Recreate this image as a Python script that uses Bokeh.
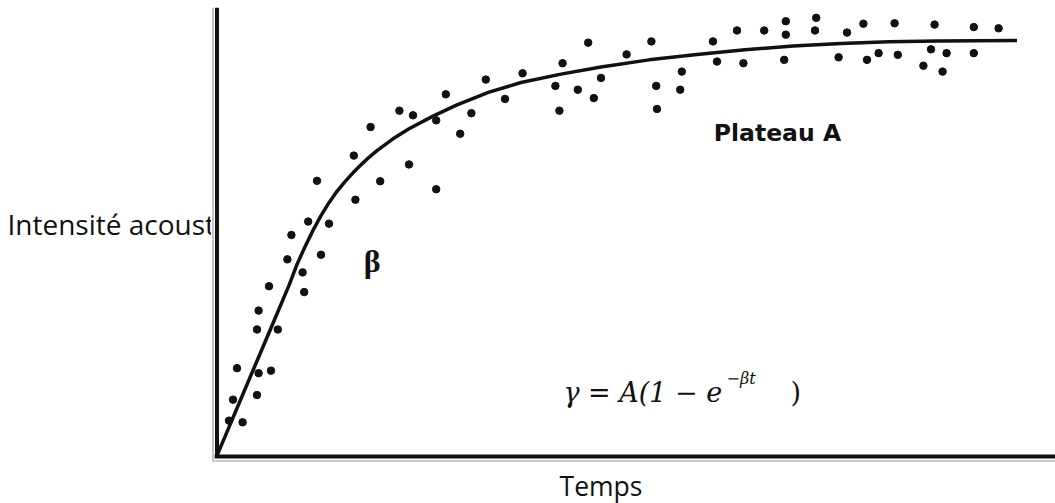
from bokeh.plotting import figure
from bokeh.layouts import row
from bokeh.models import Range1d, Label
from bokeh.core.properties import value
from bokeh.embed import file_html
from bokeh.resources import INLINE

# Measured acoustic intensity (fraction of plateau A) against time
t_obs = [3.36, 2.86, 3.18, 3.04, 2.28, 2.45, 2.74, 1.92, 1.71, 2.40, 2.04, 2.74,
         1.25, 1.73, 1.14, 1.40, 0.93, 0.88, 1.30, 1.07, 1.09, 0.65, 0.52, 0.50,
         0.76, 0.25, 0.52, 0.675, 0.20, 0.50, 0.15, 0.32,
         7.11, 7.11, 6.84, 6.50, 6.20, 6.25, 6.58, 7.09, 5.43, 5.81, 5.79, 5.49,
         5.50, 5.12, 4.64, 4.80, 4.71, 4.51, 4.32, 4.23, 4.28, 3.82, 3.60,
         7.49, 7.475, 7.875, 7.77, 8.08, 8.125, 8.27, 8.47, 8.51, 8.97, 8.925,
         9.12, 8.83, 9.07, 9.46, 9.46, 9.77]
i_obs = [0.895, 0.860, 0.815, 0.766, 0.821, 0.810, 0.798, 0.782, 0.714, 0.693, 0.653, 0.634,
         0.654, 0.609, 0.557, 0.552, 0.525, 0.467, 0.478, 0.436, 0.389, 0.403, 0.345, 0.300,
         0.300, 0.208, 0.196, 0.202, 0.133, 0.144, 0.083, 0.079,
         1.034, 1.002, 1.012, 1.012, 0.986, 0.938, 0.934, 0.942, 0.986, 0.914, 0.871, 0.880,
         0.825, 0.955, 0.983, 0.899, 0.851, 0.871, 0.934, 0.880, 0.821, 0.910, 0.849,
         1.042, 1.012, 1.007, 0.948, 1.028, 0.942, 0.958, 1.029, 0.954, 1.026, 0.967,
         0.958, 0.928, 0.914, 1.020, 0.958, 1.017]

# Fitted saturation curve  y = A(1 - e^(-beta t))
t_fit = [0.0, 0.1, 0.3, 0.5, 0.7, 0.9, 1.0, 1.1, 1.2, 1.3, 1.4, 1.5, 1.6, 1.7, 1.8,
         1.9, 2.0, 2.2, 2.4, 2.7, 3.0, 3.4, 3.8, 4.3, 4.8, 5.4, 6.0, 6.6, 7.2, 7.8,
         8.4, 9.0, 10.0]
i_fit = [0.0, 0.045, 0.135, 0.225, 0.315, 0.405, 0.455, 0.497, 0.536, 0.571, 0.602,
         0.629, 0.652, 0.673, 0.692, 0.710, 0.726, 0.754, 0.778, 0.808, 0.835, 0.865,
         0.888, 0.908, 0.925, 0.942, 0.955, 0.966, 0.975, 0.981, 0.985, 0.987, 0.988]

Y_LABEL = "Intensité acoustique"
X_LABEL = "Temps"
PLATEAU_LABEL = "Plateau A"
RATE_LABEL = "β"
FORMULA = "γ = A(1 − e"
FORMULA_EXP = "−βt"
FORMULA_END = ")"

INK = "#111111"

# ---- left strip holding the y label (clipped by the plot's edge) ----
left = figure(width=211, height=503, x_range=Range1d(0, 211), y_range=Range1d(0, 503),
              x_axis_location=None, y_axis_location=None, toolbar_location=None,
              output_backend="svg", min_border=0)
left.grid.visible = False
left.outline_line_color = None
left.text(x=[7], y=[280], text=[Y_LABEL], text_font=value("Open Sans"),
          text_font_size="28px", text_baseline="alphabetic", text_color=INK)

# ---- main plot ----
p = figure(width=844, height=503,
           x_range=Range1d(-0.06875, 10.48125), y_range=Range1d(-0.11429, 1.08333),
           x_axis_location=None, y_axis_location=None, toolbar_location=None,
           output_backend="svg", min_border=0)
p.grid.visible = False
p.outline_line_color = None

# axis frame: grey shadow plus heavy black line
p.line([-0.05, -0.05], [-0.0143, 1.066], line_width=2, color="#c4c4c4")
p.line([-0.06875, 10.6], [-0.0131, -0.0131], line_width=2, color="#c8c8c8")
p.line([0.0, 0.0], [-0.006, 1.066], line_width=4, color=INK)
p.line([-0.03, 10.6], [-0.0024, -0.0024], line_width=4, color=INK)

# fitted curve and observations
p.line(t_fit, i_fit, line_width=3.5, color=INK, line_join="round")
p.scatter(t_obs, i_obs, size=7.5, color=INK)

# annotations
p.text(x=[6.21], y=[0.769], text=[PLATEAU_LABEL], text_font=value("DejaVu Sans"),
       text_font_style="bold", text_font_size="23.5px", text_baseline="alphabetic",
       text_color=INK)
p.text(x=[1.94], y=[0.464], text=[RATE_LABEL], text_font=value("Liberation Serif"),
       text_font_style="bold", text_font_size="32px", text_align="center",
       text_baseline="alphabetic", text_color=INK)
p.text(x=[4.33], y=[0.15], text=[FORMULA], text_font=value("DejaVu Serif"),
       text_font_style="italic", text_font_size="27px", text_baseline="alphabetic",
       text_color=INK)
p.text(x=[6.37], y=[0.183], text=[FORMULA_EXP], text_font=value("DejaVu Serif"),
       text_font_style="italic", text_font_size="16px", text_baseline="alphabetic",
       text_color=INK)
p.text(x=[7.17], y=[0.15], text=[FORMULA_END], text_font=value("DejaVu Serif"),
       text_font_size="27px", text_baseline="alphabetic", text_color=INK)

p.add_layout(Label(x=4.8, y=-0.0738, text=X_LABEL, text_font="Open Sans",
                   text_font_size="26.5px", text_align="center",
                   text_baseline="alphabetic", text_color=INK))

layout = row(left, p)
open("out.html", "w").write(file_html(layout, INLINE))
